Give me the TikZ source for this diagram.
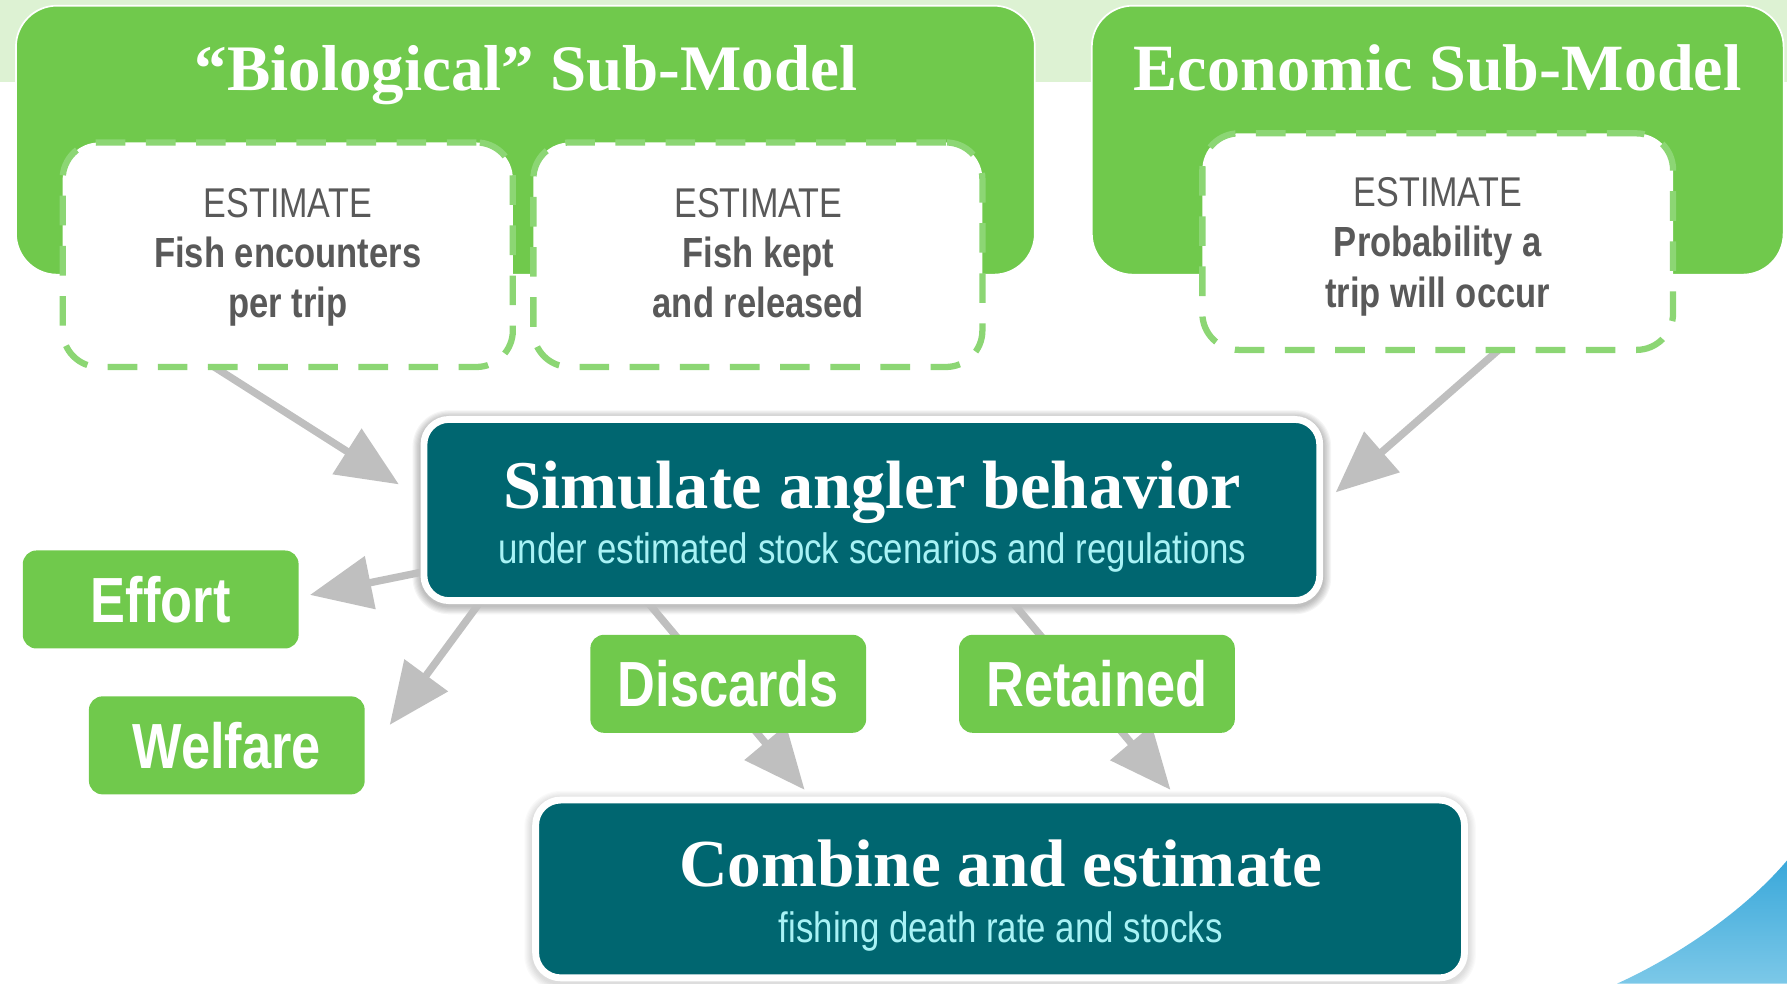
\documentclass[tikz,border=0pt]{standalone}
\usepackage{fontspec}
\setmainfont{Liberation Serif}
\newfontfamily\narrowsans[FakeStretch=0.82]{Liberation Sans}
\usetikzlibrary{arrows.meta,calc}

\definecolor{leaf}{RGB}{112,201,76}
\definecolor{leafdash}{RGB}{140,214,116}
\definecolor{band}{RGB}{221,242,211}
\definecolor{inktext}{RGB}{89,89,89}
\definecolor{deepteal}{RGB}{0,102,112}
\definecolor{paleaqua}{RGB}{168,242,245}
\definecolor{flowgrey}{RGB}{191,191,191}
\definecolor{seatop}{RGB}{58,168,218}
\definecolor{seabottom}{RGB}{124,200,232}

\pgfdeclarelayer{back}
\pgfdeclarelayer{under}
\pgfsetlayers{back,under,main}

\begin{document}
\begin{tikzpicture}[x=1pt,y=-1pt,
  submodel/.style={draw=white, line width=1.5pt, fill=leaf, rounded corners=36pt,
    inner sep=0pt, outer sep=0pt},
  estbox/.style={draw=leafdash, fill=white, line width=5.5pt,
    dash pattern=on 26pt off 18pt, rounded corners=32pt, inner sep=0pt, outer sep=0pt},
  process/.style={draw=white, line width=6pt, fill=deepteal, rounded corners=22pt,
    inner sep=0pt, outer sep=0pt},
  result/.style={fill=leaf, rounded corners=12pt, text=white,
    font=\narrowsans\bfseries\fontsize{56}{60}\selectfont,
    minimum width=242pt, minimum height=86pt, inner sep=0pt, outer sep=0pt},
  titletext/.style={text=white, font=\bfseries\fontsize{#1}{#1}\selectfont,
    inner sep=0pt, anchor=base},
  subtext/.style={text=paleaqua, font=\narrowsans\fontsize{37.3}{40}\selectfont,
    inner sep=0pt, anchor=base},
  estline/.style={text=inktext, font=\narrowsans\fontsize{36.5}{40}\selectfont,
    inner sep=0pt, anchor=base},
  estbold/.style={text=inktext, font=\narrowsans\bfseries\fontsize{37}{40}\selectfont,
    inner sep=0pt, anchor=base},
  flow/.style={draw=flowgrey, line width=6.5pt,
    -{Triangle[length=54pt,width=46pt]}}
]
\useasboundingbox (0,0) rectangle (1568,863);

% background band and corner swoosh
\begin{pgfonlayer}{back}
  \fill[band] (0,0) rectangle (1568,72);
  \shade[top color=seatop, bottom color=seabottom]
    (1419,863) .. controls (1470,840) and (1530,800) .. (1568,755)
    -- (1568,863) -- cycle;
\end{pgfonlayer}

% sub-model panels
\node[submodel, minimum width=894pt, minimum height=236pt] (bio) at (461,123) {};
\node[submodel, minimum width=607pt, minimum height=236pt] (eco) at (1261.5,123) {};
\node[titletext=57] (bioT) at (461.5,79) {“Biological” Sub-Model};
\node[titletext=58] (ecoT) at (1261.5,79) {Economic Sub-Model};

% estimate boxes
\node[estbox, minimum width=395pt, minimum height=197pt] (boxA) at (252.5,223.5) {};
\node[estbox, minimum width=394pt, minimum height=197pt] (boxB) at (665,223.5) {};
\node[estbox, minimum width=413pt, minimum height=190pt] (boxC) at (1261.5,212) {};

\node[estline] (a1) at (252.5,191) {ESTIMATE};
\node[estbold] (a2) at (252.5,235) {Fish encounters};
\node[estbold] (a3) at (252.5,279) {per trip};
\node[estline] (b1) at (665.5,191) {ESTIMATE};
\node[estbold] (b2) at (665.5,235) {Fish kept};
\node[estbold] (b3) at (665.5,279) {and released};
\node[estline] (c1) at (1261.5,181) {ESTIMATE};
\node[estbold] (c2) at (1261.5,225) {Probability a};
\node[estbold] (c3) at (1261.5,270) {trip will occur};

% process boxes
\node[process, minimum width=786pt, minimum height=159pt] (sim) at (765,447.5) {};
\node[titletext=60] (simT) at (765.5,446) {Simulate angler behavior};
\node[subtext] (simS) at (765.5,494) {under estimated stock scenarios and regulations};

\node[process, minimum width=815pt, minimum height=156pt] (comb) at (877.5,780) {};
\node[titletext=59] (combT) at (878,778) {Combine and estimate};
\node[subtext] (combS) at (878,827) {fishing death rate and stocks};

% outputs
\node[result] (effort) at (141,526) {Effort};
\node[result] (welfare) at (199,654) {Welfare};
\node[result] (discards) at (639,600) {Discards};
\node[result] (retained) at (962.5,600) {Retained};

% soft shadows and connectors, kept beneath the boxes
\begin{pgfonlayer}{under}
  \foreach \g in {1,...,7}{
    \fill[black, opacity=0.04, rounded corners={25+\g}]
      ($(sim.south west)+(-3-\g,5+\g)$) rectangle ($(sim.north east)+(3+\g,-1-\g)$);
    \fill[black, opacity=0.02, rounded corners={25+\g}]
      ($(comb.south west)+(-3-\g,5+\g)$) rectangle ($(comb.north east)+(3+\g,-1-\g)$);
  }
  \draw[flow] ($(boxA.south west)+(126.3,-4.3)$) -- ($(sim.west)+(-22,-22.5)$);
  \draw[flow] ($(boxC.south west)+(268,-7)$) -- ($(sim.east)+(14,-15.5)$);
  \draw[flow] ($(sim.south west)+(8,-27)$) -- ($(effort.east)+(10,-4)$);
  \draw[flow] ($(sim.south west)+(52.7,-3.4)$) -- ($(welfare.north east)+(22,25)$);
  \draw[flow] ($(sim.south west)+(187.6,-9)$) -- ($(comb.north west)+(236,-9)$);
  \draw[flow] ($(sim.south west)+(507.6,-9)$) -- ($(comb.north west)+(557,-9)$);
\end{pgfonlayer}
\end{tikzpicture}
\end{document}
